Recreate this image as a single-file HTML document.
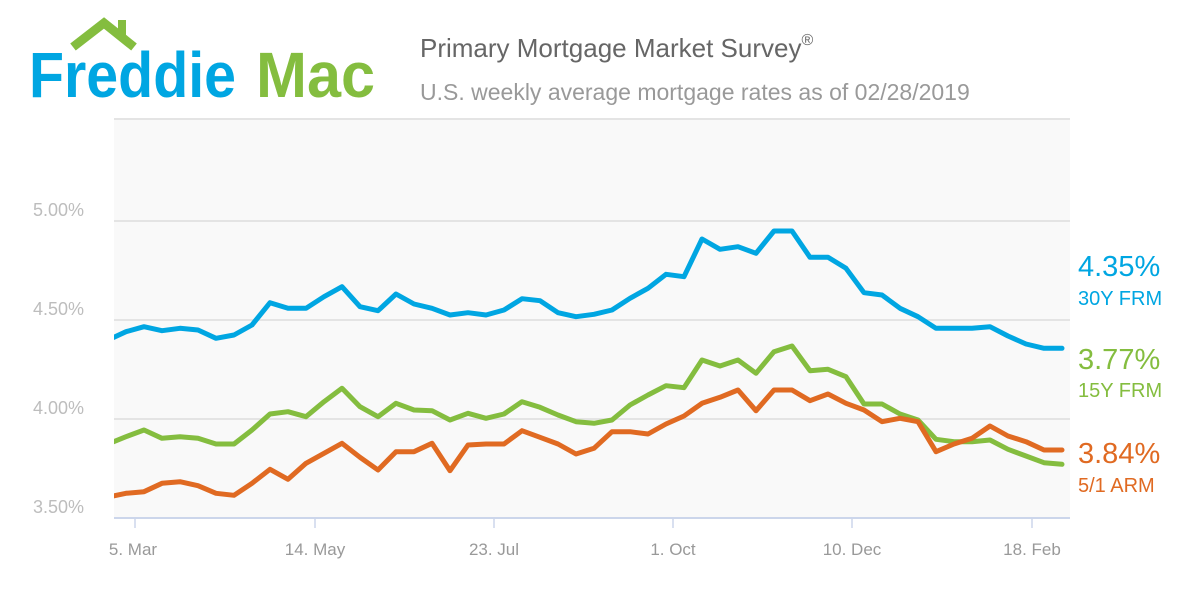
<!DOCTYPE html>
<html><head><meta charset="utf-8"><style>
body{margin:0;background:#fff;}
svg{display:block;font-family:"Liberation Sans",sans-serif;}
</style></head><body>
<svg width="1200" height="600" viewBox="0 0 1200 600">
<defs><clipPath id="c"><rect x="114" y="118" width="956" height="400"/></clipPath></defs>
<rect x="114" y="118" width="956" height="400" fill="#f9f9f9"/>
<g stroke="#e4e4e4" stroke-width="2">
<line x1="114" y1="119" x2="1070" y2="119"/>
<line x1="114" y1="221" x2="1070" y2="221"/>
<line x1="114" y1="320" x2="1070" y2="320"/>
<line x1="114" y1="419" x2="1070" y2="419"/>
</g>
<line x1="114" y1="518" x2="1070" y2="518" stroke="#ccd6eb" stroke-width="2"/>
<g stroke="#ccd6eb" stroke-width="1.5">
<line x1="135" y1="518" x2="135" y2="528"/><line x1="315" y1="518" x2="315" y2="528"/>
<line x1="494" y1="518" x2="494" y2="528"/><line x1="673" y1="518" x2="673" y2="528"/>
<line x1="852" y1="518" x2="852" y2="528"/><line x1="1032" y1="518" x2="1032" y2="528"/>
</g>
<g fill="#bdbdbd" font-size="18" text-anchor="end">
<text x="84" y="216">5.00%</text><text x="84" y="315">4.50%</text>
<text x="84" y="414">4.00%</text><text x="84" y="513">3.50%</text>
</g>
<g fill="#999" font-size="17" text-anchor="middle">
<text x="133" y="555">5. Mar</text><text x="315" y="555">14. May</text>
<text x="494" y="555">23. Jul</text><text x="673" y="555">1. Oct</text>
<text x="852" y="555">10. Dec</text><text x="1032" y="555">18. Feb</text>
</g>
<g clip-path="url(#c)" fill="none" stroke-width="5" stroke-linejoin="round" stroke-linecap="round">
<polyline stroke="#00a6e2" points="108,340 126,331.7 144,326.7 162,330.7 180,328.3 198,330 216,338.3 234,335 252,325 270,302.7 288,308.3 306,308.3 324,296.7 342,286.7 360,306.7 378,310.7 396,294 414,304 432,308.3 450,315 468,312.7 486,315 504,310 522,298.7 540,300.7 558,312.7 576,316.7 594,314.3 612,310 630,298.3 648,288.3 666,274.3 684,276.7 702,239 720,249.3 738,246.7 756,253.3 774,231 792,231 810,257.3 828,257.3 846,268.3 864,292.7 882,295 900,308.3 918,316.7 936,328.3 954,328.3 972,328.3 990,326.7 1008,336 1026,344 1044,348.3 1062,348.3"/>
<polyline stroke="#84bd3f" points="108,444 126,436.7 144,430 162,438.3 180,436.7 198,438.3 216,444 234,444 252,430 270,414 288,411.7 306,416.7 324,401.7 342,388.3 360,406.7 378,416.7 396,403.3 414,410 432,410.7 450,420 468,413.3 486,418.3 504,414 522,401.7 540,407.3 558,415 576,421.7 594,423.3 612,420 630,405 648,395 666,385.7 684,387.7 702,360 720,366 738,360 756,373.3 774,351.7 792,346 810,370.7 828,369.3 846,376.7 864,404 882,404 900,414 918,420 936,439.3 954,441.7 972,441.7 990,440 1008,449.3 1026,456 1044,462.7 1062,464.3"/>
<polyline stroke="#e06a22" points="108,497 126,493.3 144,491.7 162,483.3 180,481.7 198,485.7 216,493.3 234,495.3 252,483.3 270,469.3 288,479.3 306,463.3 324,453.3 342,443.3 360,457.3 378,470 396,451.7 414,451.7 432,443.3 450,470.7 468,445 486,444 504,444 522,430.7 540,437.3 558,444 576,454 594,448.3 612,431.7 630,431.7 648,434 666,424 684,416 702,403.3 720,397.3 738,390 756,410.7 774,390 792,390 810,400.7 828,394 846,403.3 864,410 882,421.7 900,418.3 918,421.7 936,451.7 954,444 972,438.3 990,426 1008,436 1026,441.7 1044,450 1062,450"/>
</g>
<text x="1078" y="276" font-size="29" fill="#00a6e2">4.35%</text>
<text x="1078" y="305" font-size="20" fill="#00a6e2">30Y FRM</text>
<text x="1078" y="369" font-size="29" fill="#84bd3f">3.77%</text>
<text x="1078" y="397" font-size="20" fill="#84bd3f">15Y FRM</text>
<text x="1078" y="463" font-size="29" fill="#e06a22">3.84%</text>
<text x="1078" y="492" font-size="20" fill="#e06a22">5/1 ARM</text>
<text x="420" y="57" font-size="26" fill="#666">Primary Mortgage Market Survey<tspan font-size="16" dy="-12">®</tspan></text>
<text x="420" y="100" font-size="23" fill="#999">U.S. weekly average mortgage rates as of 02/28/2019</text>
<polyline points="73,47 104,23 134,47" fill="none" stroke="#84bd3f" stroke-width="9"/>
<rect x="118" y="20" width="8" height="16" fill="#84bd3f"/>
<text x="29" y="97" font-size="64" font-weight="bold" fill="#00a6e2" textLength="207" lengthAdjust="spacingAndGlyphs">Freddie</text>
<text x="256" y="97" font-size="64" font-weight="bold" fill="#84bd3f" textLength="119" lengthAdjust="spacingAndGlyphs">Mac</text>
</svg>
</body></html>
